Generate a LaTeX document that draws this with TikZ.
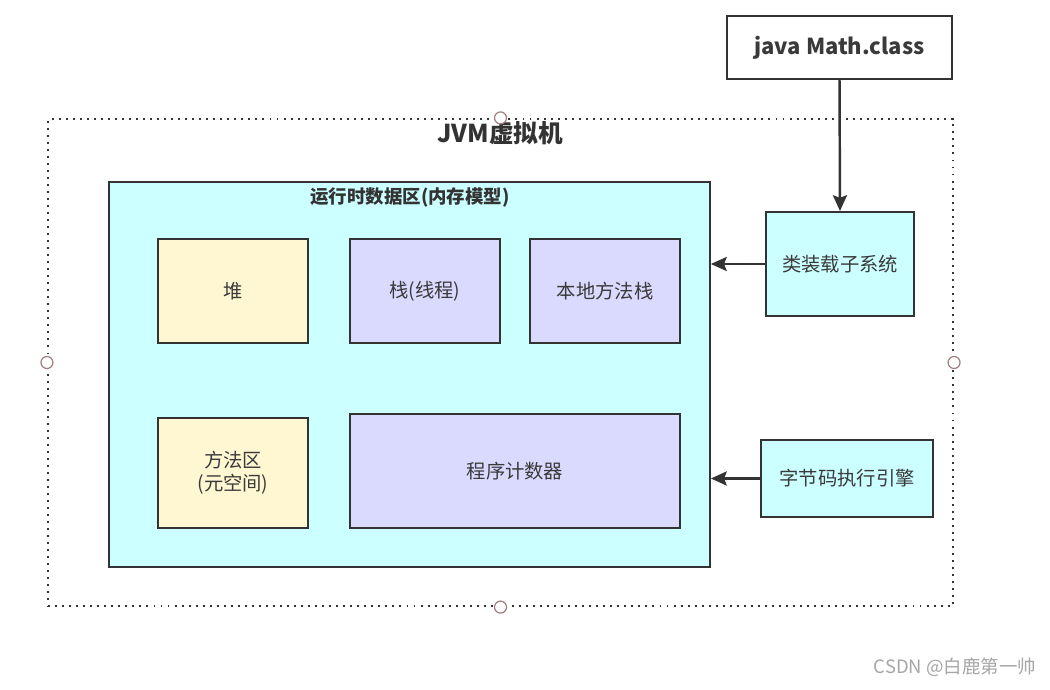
\documentclass[tikz,border=0pt]{standalone}
\usepackage{fontspec}
\setmainfont{Noto Sans CJK SC}
\usepackage{xcolor}
\usetikzlibrary{arrows.meta}

\definecolor{areacyan}{HTML}{CCFFFF}
\definecolor{heapyellow}{HTML}{FFF6D2}
\definecolor{stacklav}{HTML}{DADAFF}
\definecolor{edgegray}{HTML}{333333}
\definecolor{txtgray}{HTML}{3A3A3A}
\definecolor{handlered}{HTML}{A08080}

\tikzset{
    box/.style={draw=edgegray, line width=1.1pt, inner sep=0pt, align=center,
        text=txtgray, font=\fontsize{11}{13}\selectfont},
    heapbox/.style={box, fill=heapyellow, minimum width=3cm},
    stackbox/.style={box, fill=stacklav},
    sysbox/.style={box, fill=areacyan},
    handle/.style={circle, draw=handlered, fill=white, line width=0.7pt, minimum size=0.24cm, inner sep=0pt},
    flow/.style={-{Stealth[length=9pt, width=8pt, inset=1.5pt]}, line width=1.4pt, draw=edgegray}
}

\begin{document}
\begin{tikzpicture}[x=0.02cm, y=-0.02cm]
    \useasboundingbox[fill=white] (0,0) rectangle (1050,689);

    % JVM frame
    \node[draw=edgegray, line width=1.3pt, dash pattern=on 1.1pt off 2.9pt,
        minimum width=18.1cm, minimum height=9.74cm, inner sep=0pt] (jvm) at (500.5,362.5) {};
    \node[font=\fontsize{14}{16}\selectfont\bfseries, text=edgegray] (jvmlabel) at (500,133) {JVM虚拟机};

    % Runtime data area
    \node[sysbox, minimum width=12.02cm, minimum height=7.7cm] (runtime) at (409.5,374.5) {};
    \node[font=\fontsize{10.5}{12}\selectfont\bfseries, text=edgegray] (rtlabel) at (410,197) {运行时数据区(内存模型)};

    \node[heapbox, minimum height=2.08cm] (heap) at (233,291) {堆};
    \node[stackbox, minimum width=3cm, minimum height=2.08cm] (stack) at (425,291) {栈(线程)};
    \node[stackbox, minimum width=3cm, minimum height=2.08cm] (native) at (605,291) {本地方法栈};
    \node[heapbox, minimum height=2.2cm] (method) at (233,473) {方法区\\(元空间)};
    \node[stackbox, minimum width=6.6cm, minimum height=2.28cm] (pc) at (515,471) {程序计数器};

    % Subsystems
    \node[box, fill=white, minimum width=4.5cm, minimum height=1.26cm,
        font=\fontsize{12.5}{14}\selectfont\bfseries] (mathclass) at (839.5,47.5) {java Math.class};
    \node[sysbox, minimum width=2.96cm, minimum height=2.08cm] (loader) at (840,264) {类装载子系统};
    \node[sysbox, minimum width=3.44cm, minimum height=1.54cm] (engine) at (847,478.5) {字节码执行引擎};

    % Arrows
    \draw[flow] (mathclass.south) -- (loader.north);
    \draw[flow] (loader.west) -- (loader.west -| runtime.east);
    \draw[flow] (engine.west) -- (engine.west -| runtime.east);

    % Selection handles
    \node[handle] (hn) at (jvm.north) {};
    \node[handle] (hs) at (jvm.south) {};
    \node[handle] (hw) at (jvm.west) {};
    \node[handle] (he) at (jvm.east) {};

    \node[text=gray!70, font=\fontsize{10.5}{12}\selectfont] (mark) at (955,667) {CSDN @白鹿第一帅};
\end{tikzpicture}
\end{document}
